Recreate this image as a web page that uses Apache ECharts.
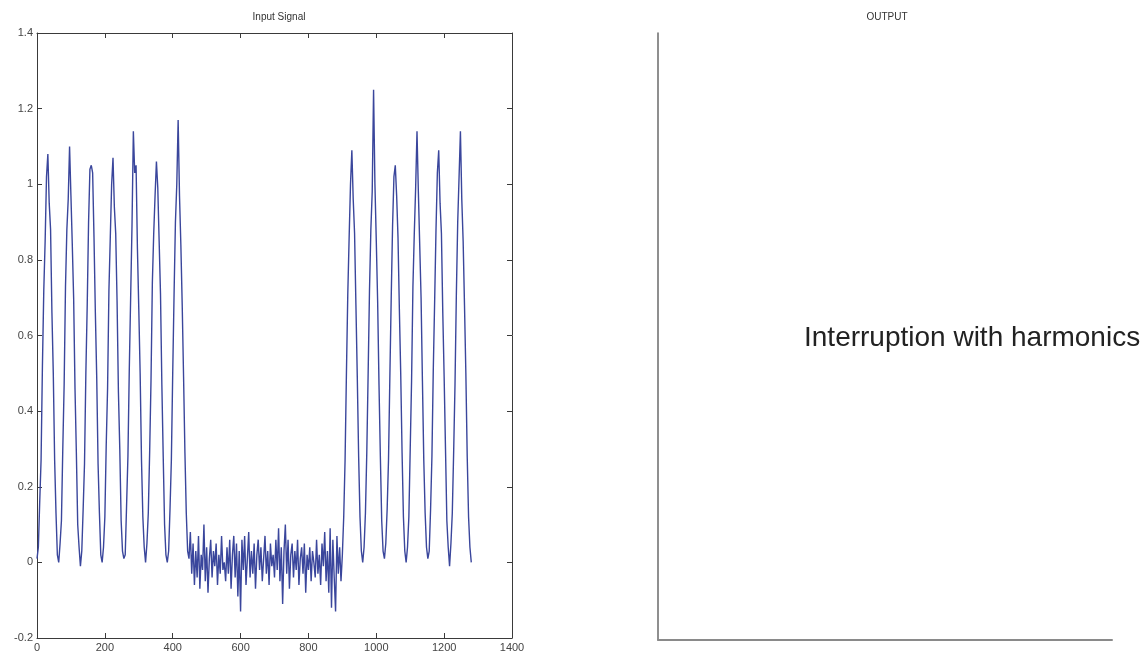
<!DOCTYPE html>
<html>
<head>
<meta charset="utf-8">
<script src="https://cdn.jsdelivr.net/npm/echarts@6/dist/echarts.min.js"></script>
<style>
html,body{margin:0;padding:0;background:#fff;}
#c{width:1148px;height:662px;}
</style>
</head>
<body>
<div id="c"></div>
<script>
// ---- data ----
var titles = ['Input Signal', 'OUTPUT'];
var outputNote = 'Interruption with harmonics';
var xTicks = [0, 200, 400, 600, 800, 1000, 1200, 1400];
var yTicks = [-0.2, 0, 0.2, 0.4, 0.6, 0.8, 1, 1.2, 1.4];
var sampleStep = 4;

// seven harmonic-distorted cycles before the interruption, x = 0 .. 448
var cyclesBeforeStart = 0;
var cyclesBefore = [
  0.01, 0.04, 0.16, 0.27, 0.52, 0.72, 0.85, 1.02, 1.08, 0.95, 0.88, 0.66, 0.50, 0.27, 0.13, 0.02,
  0.00, 0.05, 0.11, 0.30, 0.47, 0.73, 0.88, 0.96, 1.10, 0.97, 0.84, 0.70, 0.46, 0.29, 0.10, 0.04,
  -0.01, 0.03, 0.14, 0.26, 0.50, 0.68, 0.90, 1.04, 1.05, 1.03, 0.86, 0.66, 0.49, 0.26, 0.13, 0.02,
  0.00, 0.04, 0.12, 0.31, 0.46, 0.72, 0.86, 1.00, 1.07, 0.94, 0.87, 0.69, 0.45, 0.30, 0.11, 0.03,
  0.01, 0.02, 0.15, 0.28, 0.51, 0.70, 0.89, 1.14, 1.03, 1.05, 0.83, 0.67, 0.50, 0.27, 0.12, 0.04,
  0.00, 0.05, 0.13, 0.29, 0.48, 0.74, 0.87, 0.97, 1.06, 0.99, 0.85, 0.71, 0.47, 0.28, 0.10, 0.02,
  0.00, 0.03, 0.14, 0.27, 0.50, 0.71, 0.90, 1.00, 1.17, 0.97, 0.84, 0.68, 0.49, 0.29, 0.13, 0.03,
  0.01
];

// interruption: residual noise, x = 452 .. 900
var interruptionStart = 452;
var interruption = [
  0.08, -0.03, 0.05, -0.06, 0.03, -0.04, 0.07, -0.07, 0.02, -0.02, 0.10, -0.05, 0.04, -0.08, 0.01, 0.06,
  -0.04, 0.03, -0.01, 0.05, -0.06, 0.02, -0.03, 0.07, -0.02, 0.00, -0.05, 0.04, -0.03, 0.06, -0.07, 0.02,
  0.07, -0.04, 0.05, -0.09, 0.03, -0.13, 0.06, -0.02, 0.07, -0.06, 0.01, 0.08, -0.04, 0.03, -0.03, 0.05,
  -0.07, 0.02, 0.06, -0.02, 0.04, -0.05, 0.01, 0.07, -0.03, 0.03, -0.06, 0.05, -0.01, 0.02, -0.04, 0.06,
  -0.02, 0.09, -0.05, 0.04, -0.11, 0.03, 0.10, -0.03, 0.06, -0.07, 0.02, 0.05, -0.04, 0.03, -0.02, 0.06,
  -0.06, 0.01, 0.04, -0.03, 0.05, -0.08, 0.02, -0.02, 0.04, -0.05, 0.03, 0.00, -0.04, 0.06, -0.03, 0.02,
  -0.06, 0.05, -0.01, 0.08, -0.05, 0.03, -0.08, 0.09, -0.12, 0.06, -0.04, -0.13, 0.07, -0.03, 0.04, -0.05,
  0.02
];

// six cycles after the interruption, x = 904 .. 1280
var cyclesAfterStart = 904;
var cyclesAfter = [
  0.12, 0.27, 0.50, 0.71, 0.86, 1.00, 1.09, 0.96, 0.87, 0.68, 0.49, 0.28, 0.12, 0.03,
  0.00, 0.04, 0.13, 0.29, 0.50, 0.72, 0.88, 0.98, 1.25, 1.00, 0.85, 0.69, 0.47, 0.28, 0.11, 0.03,
  0.01, 0.05, 0.14, 0.27, 0.49, 0.70, 0.89, 1.02, 1.05, 0.97, 0.86, 0.67, 0.50, 0.29, 0.12, 0.03,
  0.00, 0.04, 0.12, 0.30, 0.48, 0.73, 0.87, 0.99, 1.14, 0.98, 0.84, 0.70, 0.48, 0.27, 0.13, 0.04,
  0.01, 0.03, 0.14, 0.28, 0.51, 0.69, 0.88, 1.03, 1.09, 0.95, 0.87, 0.66, 0.49, 0.30, 0.11, 0.04,
  -0.01, 0.05, 0.13, 0.29, 0.47, 0.71, 0.90, 1.02, 1.14, 0.96, 0.85, 0.68, 0.50, 0.28, 0.12, 0.04,
  0.00
];

// ---- build [x, y] pairs from segment arrays ----
function segment(start, values) {
  return values.map(function (v, i) { return [start + i * sampleStep, v]; });
}
var signal = [].concat(
  segment(cyclesBeforeStart, cyclesBefore),
  segment(interruptionStart, interruption),
  segment(cyclesAfterStart, cyclesAfter)
);

var FONT = 'Liberation Sans, Arial, sans-serif';
var AX = '#3a3a3a';
var chart = echarts.init(document.getElementById('c'), null, {renderer: 'canvas'});

function boxAxis(pos, idx, showLabel, type) {
  return {
    type: 'value',
    gridIndex: idx,
    position: pos,
    min: type === 'x' ? xTicks[0] : yTicks[0],
    max: type === 'x' ? xTicks[xTicks.length - 1] : yTicks[yTicks.length - 1],
    interval: type === 'x' ? 200 : 0.2,
    axisLine: {show: true, onZero: false, lineStyle: {color: AX, width: 1}},
    axisTick: {show: true, inside: true, length: 5, lineStyle: {color: AX}},
    axisLabel: {show: showLabel, color: '#444', fontFamily: FONT, fontSize: 11, margin: 4,
      formatter: function (v) { return String(Math.round(v * 10) / 10); }},
    splitLine: {show: false}
  };
}

var option = {
  backgroundColor: '#ffffff',
  animation: false,
  title: [
    {text: titles[0], left: 274, top: 7, textAlign: 'center',
     textStyle: {fontFamily: FONT, fontSize: 10, fontWeight: 'normal', color: '#333'}},
    {text: titles[1], left: 882, top: 7, textAlign: 'center',
     textStyle: {fontFamily: FONT, fontSize: 10, fontWeight: 'normal', color: '#333'}},
    {text: outputNote, left: 799, top: 319,
     textStyle: {fontFamily: FONT, fontSize: 28, fontWeight: 'normal', color: '#222'}}
  ],
  grid: [
    {left: 37, right: 636, top: 33, bottom: 24},
    {left: 658, right: 36, top: 33, bottom: 22}
  ],
  xAxis: [
    boxAxis('bottom', 0, true, 'x'),
    boxAxis('top', 0, false, 'x'),
    {type: 'value', gridIndex: 1, min: 0, max: 1, position: 'bottom',
     axisLine: {show: true, onZero: false, lineStyle: {color: '#8a8a8a', width: 2}},
     axisTick: {show: false}, axisLabel: {show: false}, splitLine: {show: false}}
  ],
  yAxis: [
    boxAxis('left', 0, true, 'y'),
    boxAxis('right', 0, false, 'y'),
    {type: 'value', gridIndex: 1, min: 0, max: 1, position: 'left',
     axisLine: {show: true, onZero: false, lineStyle: {color: '#6a6a6a', width: 1.5}},
     axisTick: {show: false}, axisLabel: {show: false}, splitLine: {show: false}}
  ],
  series: [{
    type: 'line',
    xAxisIndex: 0,
    yAxisIndex: 0,
    data: signal,
    showSymbol: false,
    symbol: 'none',
    lineStyle: {color: '#3a469c', width: 1.4},
    silent: true
  }]
};
chart.setOption(option);
</script>
</body>
</html>
